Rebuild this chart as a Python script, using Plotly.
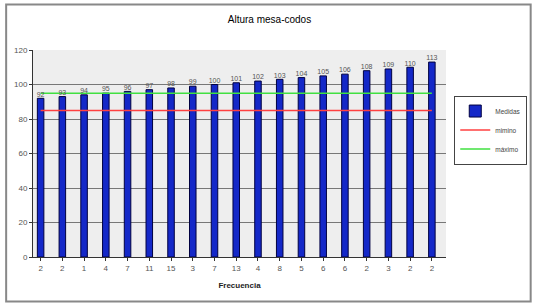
import plotly.graph_objects as go

frecuencia = ["2", "2", "1", "4", "7", "11", "15", "3", "7", "13", "4", "8", "5", "6", "6", "2", "3", "2", "2"]
medidas = [92, 93, 94, 95, 96, 97, 98, 99, 100, 101, 102, 103, 104, 105, 106, 108, 109, 110, 113]
minimo = [85] * len(medidas)
maximo = [95] * len(medidas)
positions = list(range(len(medidas)))

FONT = "Liberation Sans, Arial, sans-serif"

fig = go.Figure()
fig.add_trace(go.Bar(
    x=positions, y=medidas, name="Medidas", width=0.3,
    marker=dict(color="#1428c8", line=dict(color="#000040", width=1)),
))
fig.add_trace(go.Scatter(x=positions, y=minimo, name="mimino", mode="lines",
                         line=dict(color="#ff4040", width=1.5)))
fig.add_trace(go.Scatter(x=positions, y=maximo, name="máximo", mode="lines",
                         line=dict(color="#40e040", width=1.5)))
fig.add_trace(go.Scatter(x=positions, y=medidas, mode="text", text=[str(v) for v in medidas],
                         textposition="top center", showlegend=False, cliponaxis=False,
                         textfont=dict(size=7, color="#555555", family=FONT), hoverinfo="skip"))

fig.update_layout(
    width=539, height=303,
    margin=dict(l=33, r=86, t=50, b=46),
    paper_bgcolor="white", plot_bgcolor="#eeeeee",
    font=dict(family=FONT, size=8, color="#444444"),
    title=dict(text="Altura mesa-codos", x=0.5, xanchor="center", y=0.935, yanchor="middle",
               font=dict(size=10, color="#000000", family=FONT)),
    showlegend=True,
    legend=dict(x=1.02, y=0.78, xanchor="left", yanchor="top",
                bordercolor="#444444", borderwidth=1, bgcolor="white",
                font=dict(size=6.5, color="#444444"), tracegroupgap=0, itemwidth=30),
    xaxis=dict(
        tickmode="array", tickvals=positions, ticktext=frecuencia,
        range=[-0.35, 18.65], showgrid=False, showline=True, linecolor="#333333",
        ticks="outside", ticklen=3, tickcolor="#333333",
        tickfont=dict(size=8, color="#555555"),
        title=dict(text="<b>Frecuencia</b>", font=dict(size=8, color="#222222"), standoff=10),
    ),
    yaxis=dict(
        range=[0, 120], dtick=20, showgrid=True, gridcolor="#777777", gridwidth=1,
        showline=True, linecolor="#333333", ticks="outside", ticklen=3, tickcolor="#333333",
        tickfont=dict(size=8, color="#555555"), zeroline=False,
    ),
    shapes=[dict(type="rect", xref="paper", yref="paper", x0=-0.065, x1=1.205, y0=-0.215, y1=1.22,
                 line=dict(color="#888888", width=2), layer="below")],
)

fig.write_html("out.html", post_script="document.body.style.margin='0';",
               config={"displayModeBar": False})
